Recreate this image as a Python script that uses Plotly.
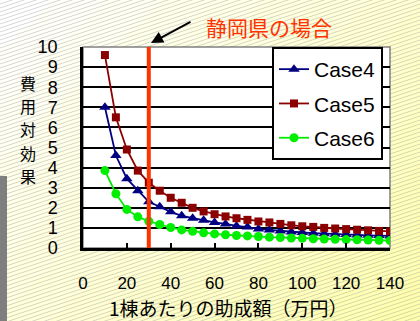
import plotly.graph_objects as go

# Subsidy per building (10,000 yen) and cost-effectiveness for three cases
subsidy = [10, 15, 20, 25, 30, 35, 40, 45, 50, 55, 60, 65, 70, 75, 80,
           85, 90, 95, 100, 105, 110, 115, 120, 125, 130, 135, 140]
case4 = [7.0, 4.6, 3.45, 2.85, 2.3, 2.05, 1.8, 1.6, 1.48, 1.38, 1.27, 1.2, 1.1, 1.04, 0.95,
         0.9, 0.85, 0.8, 0.77, 0.74, 0.71, 0.69, 0.67, 0.65, 0.63, 0.62, 0.6]
case5 = [9.6, 6.5, 4.9, 3.85, 3.25, 2.85, 2.5, 2.25, 2.0, 1.82, 1.68, 1.57, 1.48, 1.4, 1.32,
         1.27, 1.2, 1.13, 1.08, 1.05, 1.0, 0.97, 0.94, 0.91, 0.88, 0.85, 0.83]
case6 = [3.85, 2.7, 1.92, 1.55, 1.33, 1.17, 1.02, 0.9, 0.83, 0.76, 0.7, 0.66, 0.62, 0.6, 0.57,
         0.54, 0.52, 0.5, 0.48, 0.46, 0.45, 0.43, 0.42, 0.41, 0.4, 0.38, 0.37]
shizuoka_subsidy = 30

x_ticks = [0, 20, 40, 60, 80, 100, 120, 140]
y_ticks = list(range(0, 11))
y_title_chars = ["費", "用", "対", "効", "果"]

W, H = 420, 321
L, R, T, B = 83, 390, 47, 248
LATIN = "Arial, Liberation Sans, sans-serif"
CJK = "Noto Sans CJK JP, sans-serif"


def px(x):
    return (x - L) / (R - L)


def py(y):
    return (B - y) / (B - T)


fig = go.Figure()

series = [
    ("Case4", case4, "#000080", "triangle-up", 10),
    ("Case5", case5, "#8B0000", "square", 8),
    ("Case6", case6, "#00EE00", "circle", 9),
]
for name, vals, color, symbol, size in series:
    fig.add_trace(go.Scatter(
        x=subsidy, y=vals, name=name, mode="lines+markers",
        legendgroup=name,
        line=dict(color=color, width=1.8),
        marker=dict(symbol=symbol, size=size, color=color),
    ))

shapes = []

# soft diagonal white-to-yellow background
n_bands = 14
for i in range(n_bands):
    t = i / (n_bands - 1)
    r, g, b = 255, 255, int(255 - t * 80)
    d0 = (W + H) * i / n_bands
    d1 = (W + H) * (i + 1) / n_bands + 1
    pts = [(d0, 0), (d1, 0), (d1 - H, H), (d0 - H, H)]
    path = "M " + " L ".join(f"{px(xx):.4f},{py(yy):.4f}" for xx, yy in pts) + " Z"
    shapes.append(dict(type="path", xref="paper", yref="paper", path=path,
                       fillcolor=f"rgb({r},{g},{b})", line=dict(width=0), layer="below"))

# fine diagonal hatching over the background
segs = []
y0 = 0
while y0 < H + W / 3 + 4:
    segs.append(f"M {px(0):.4f},{py(y0):.4f} L {px(W):.4f},{py(y0 - W / 3):.4f}")
    y0 += 4
shapes.append(dict(type="path", xref="paper", yref="paper", path=" ".join(segs),
                   line=dict(color="rgba(140,140,140,0.35)", width=1), layer="below"))

# white plot area
shapes.append(dict(type="rect", xref="paper", yref="paper", x0=0, x1=1, y0=0, y1=1,
                   fillcolor="white", line=dict(color="#808080", width=1.5), layer="below"))

# grey bar at the left edge
shapes.append(dict(type="rect", xref="paper", yref="paper",
                   x0=px(0), x1=px(7), y0=py(321), y1=py(176),
                   fillcolor="#7F7F7F", line=dict(width=0), layer="below"))

# Shizuoka marker line
shapes.append(dict(type="line", xref="x", yref="y",
                   x0=shizuoka_subsidy, x1=shizuoka_subsidy, y0=0, y1=10.2,
                   line=dict(color="#FF3300", width=4), layer="above"))

annotations = [
    dict(text="静岡県の場合", xref="paper", yref="paper", x=px(204), y=py(27),
         xanchor="left", yanchor="middle", showarrow=False,
         font=dict(family=CJK, size=21, color="#FF3300")),
    dict(text="", xref="paper", yref="paper", x=px(151), y=py(43),
         ax=41, ay=-22, showarrow=True, arrowhead=2, arrowsize=1.2,
         arrowwidth=2, arrowcolor="black"),
    dict(text="1棟あたりの助成額（万円）", xref="paper", yref="paper",
         x=px(228), y=py(307), xanchor="center", yanchor="middle", showarrow=False,
         font=dict(family=CJK, size=19, color="black")),
]

# vertical axis title, one character per row
for i, ch in enumerate(y_title_chars):
    annotations.append(dict(
        text=ch, xref="paper", yref="paper", x=px(28), y=py(83 + i * 23.2),
        xanchor="center", yanchor="middle", showarrow=False,
        font=dict(family=CJK, size=16, color="black")))

fig.update_layout(
    width=W, height=H,
    margin=dict(l=L, r=W - R, t=T, b=H - B, pad=0),
    paper_bgcolor="#FFFFF0",
    plot_bgcolor="rgba(0,0,0,0)",
    shapes=shapes,
    annotations=annotations,
    showlegend=True,
    legend=dict(x=px(272), y=py(47), xanchor="left", yanchor="top",
                bgcolor="white", bordercolor="black", borderwidth=2,
                font=dict(family=LATIN, size=21, color="black"),
                tracegroupgap=4, itemwidth=30),
    xaxis=dict(range=[0, 140], tickvals=x_ticks, showgrid=False,
               showline=True, linecolor="black", linewidth=2.5,
               ticks="inside", ticklen=5, tickwidth=2, tickcolor="black",
               ticklabelstandoff=18, zeroline=False,
               tickfont=dict(family=LATIN, size=17, color="black")),
    yaxis=dict(range=[0, 10], tickvals=y_ticks, showgrid=True,
               gridcolor="black", gridwidth=2,
               showline=True, linecolor="black", linewidth=2.5,
               ticks="", ticklabelstandoff=19, zeroline=False,
               tickfont=dict(family=LATIN, size=18, color="black")),
)

fig.write_html("out.html")
